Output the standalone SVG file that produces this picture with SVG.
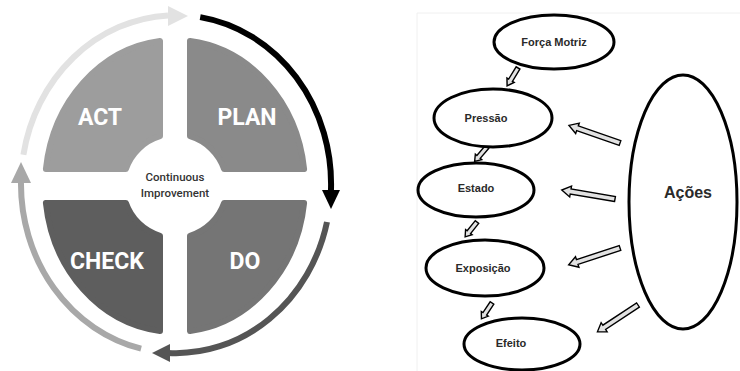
<svg xmlns="http://www.w3.org/2000/svg" xmlns:xlink="http://www.w3.org/1999/xlink" width="740" height="371" viewBox="0 0 740 371">
<style>
.q{stroke-width:6;stroke-linejoin:round}
.ql{font-family:Roboto,"Liberation Sans",sans-serif;font-weight:bold;font-size:23px;fill:#fff;text-anchor:middle}
.ci{font-family:Roboto,"Liberation Sans",sans-serif;font-weight:500;font-size:11.5px;fill:#333;text-anchor:middle}
.ring{fill:none;stroke-width:6}
.el{fill:#fff;stroke:#000;stroke-width:3}
.et{font-family:"Liberation Sans",Arial,sans-serif;font-weight:bold;font-size:11px;fill:#2a2a2a;text-anchor:middle}
.ba{fill:#e2e2e2;stroke:#000;stroke-width:1.4;stroke-linejoin:miter}
</style>
<defs>
<path id="bigArrow" d="M0,-2.5 L45,-2.5 L45,-5.5 L54,0 L45,5.5 L45,2.5 L0,2.5 Z"/>
<path id="smallArrow" d="M0,-2.2 L13,-2.2 L13,-4.2 L19,0 L13,4.2 L13,2.2 L0,2.2 Z"/>
</defs>
<rect width="740" height="371" fill="#fff"/>
<path d="M417,371 L417,13 L740,13" fill="none" stroke="#f0f0f0" stroke-width="1"/>

<!-- PDCA cycle -->
<g id="act">
<path class="q" fill="#9d9d9d" stroke="#9d9d9d" d="M160,41 L160,136.2 A52,52 0 0 0 125.9,169 L45.9,169 A130,146 0 0 1 160,41 Z"/>
<text class="ql" x="100" y="125">ACT</text>
</g>
<g id="plan">
<path class="q" fill="#8a8a8a" stroke="#8a8a8a" d="M190,41 A130,146 0 0 1 304.1,169 L224.1,169 A52,52 0 0 0 190,136.2 Z"/>
<text class="ql" x="247" y="125">PLAN</text>
</g>
<g id="check">
<path class="q" fill="#5e5e5e" stroke="#5e5e5e" d="M45.9,203 L125.9,203 A52,52 0 0 0 160,235.8 L160,331 A130,146 0 0 1 45.9,203 Z"/>
<text class="ql" x="107" y="269">CHECK</text>
</g>
<g id="do">
<path class="q" fill="#757575" stroke="#757575" d="M190,235.8 A52,52 0 0 0 224.1,203 L304.1,203 A130,146 0 0 1 190,331 Z"/>
<text class="ql" x="245" y="269">DO</text>
</g>
<g id="center">
<text class="ci" x="175" y="181">Continuous</text>
<text class="ci" x="175" y="197">Improvement</text>
</g>
<g id="cycle-arrows">
<path class="ring" stroke="#e2e2e2" d="M23.4,154.7 A155,169 0 0 1 168,15.4"/>
<polygon fill="#e2e2e2" points="168,6 188,16 168,26"/>
<path class="ring" stroke="#000" stroke-width="5" d="M200.2,17.1 A155,169 0 0 1 330.9,192"/>
<polygon fill="#000" points="322,190 340,190 331,209"/>
<path class="ring" stroke="#555" stroke-width="5" d="M327,222 A155,169 0 0 1 168,352.9"/>
<polygon fill="#555" points="152,353 170,344 170,362"/>
<path class="ring" stroke="#a8a8a8" d="M141.1,348.7 A155,169 0 0 1 21,181"/>
<polygon fill="#a8a8a8" points="21,162 11,183 31,183"/>
</g>

<!-- DPSEEA model -->
<g id="connectors">
<use xlink:href="#smallArrow" class="ba" transform="translate(518,68) rotate(121.4) scale(1.1,1)"/>
<use xlink:href="#smallArrow" class="ba" transform="translate(487,147) rotate(130.6)"/>
<use xlink:href="#smallArrow" class="ba" transform="translate(477,222) rotate(128.7)"/>
<use xlink:href="#smallArrow" class="ba" transform="translate(492,303) rotate(123.7)"/>
<use xlink:href="#bigArrow" class="ba" transform="translate(620,143) rotate(199.1)"/>
<use xlink:href="#bigArrow" class="ba" transform="translate(615,199) rotate(189.6)"/>
<use xlink:href="#bigArrow" class="ba" transform="translate(620,248) rotate(161.9)"/>
<use xlink:href="#bigArrow" class="ba" transform="translate(638,305) rotate(146.6) scale(0.9,1)"/>
</g>
<g id="forca-motriz">
<ellipse class="el" cx="554" cy="42" rx="60" ry="27"/>
<text class="et" x="554" y="46">Força Motriz</text>
</g>
<g id="pressao">
<ellipse class="el" cx="493" cy="118" rx="59" ry="29"/>
<text class="et" x="486" y="122">Pressão</text>
</g>
<g id="estado">
<ellipse class="el" cx="476" cy="190" rx="58" ry="27"/>
<text class="et" x="476" y="192">Estado</text>
</g>
<g id="exposicao">
<ellipse class="el" cx="485" cy="268" rx="59" ry="28"/>
<text class="et" x="483" y="272">Exposição</text>
</g>
<g id="efeito">
<ellipse class="el" cx="522" cy="344" rx="58" ry="26"/>
<text class="et" x="511" y="347">Efeito</text>
</g>
<g id="acoes">
<ellipse class="el" cx="683" cy="202" rx="54" ry="127"/>
<text class="et" x="688" y="198" style="font-size:16px">Ações</text>
</g>
</svg>
